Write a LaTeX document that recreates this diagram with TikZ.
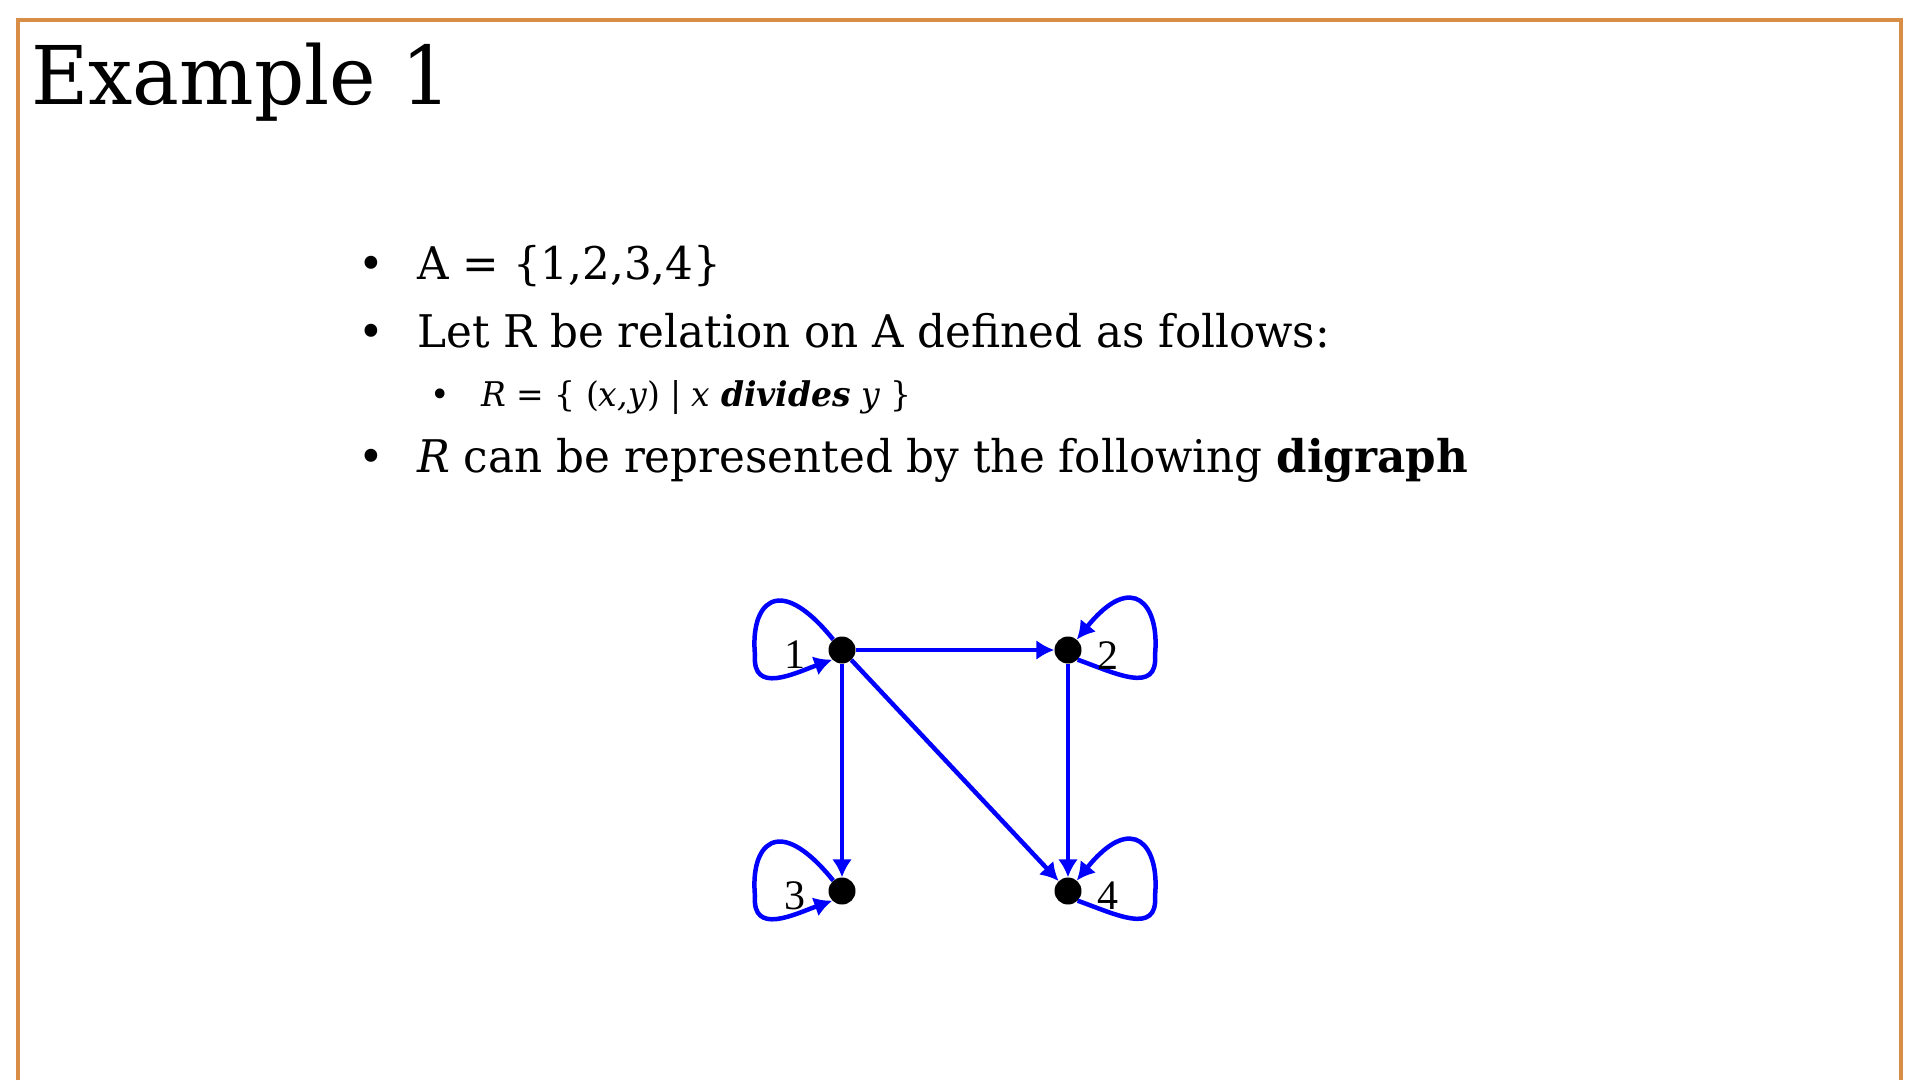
\documentclass[tikz,border=0pt]{standalone}
\usepackage{fontspec}
\setmainfont{DejaVu Serif}[FakeStretch=0.97]
\newfontfamily\labelfont{Liberation Serif}
\usetikzlibrary{arrows.meta,positioning,calc}

\definecolor{frameorange}{RGB}{217,142,72}
\definecolor{edgeblue}{RGB}{0,0,255}

\begin{document}
\begin{tikzpicture}[
  x=1pt, y=-1pt,
  frame/.style={draw=frameorange, line width=4pt},
  title/.style={anchor=base west, inner sep=0pt, font=\fontsize{81}{88}\selectfont},
  item/.style={anchor=base west, inner sep=0pt, font=\fontsize{45}{50}\selectfont},
  subitem/.style={anchor=base west, inner sep=0pt, font=\fontsize{34}{40}\selectfont},
  bullet/.style={anchor=base, inner sep=0pt, font=\fontsize{45}{50}\selectfont},
  subbullet/.style={anchor=base, inner sep=0pt, font=\fontsize{34}{40}\selectfont},
  dot/.style={circle, fill=black, inner sep=0pt, minimum size=27pt},
  vlabel/.style={inner sep=0pt, font=\labelfont\fontsize{42}{44}\selectfont},
  arrow/.style={-{Latex[length=18pt,width=20pt]}, draw=edgeblue, line width=4.5pt}
]
\fill[white] (0,0) rectangle (1920,1080);
\useasboundingbox (0,0) rectangle (1920,1080);
\draw[frame] (18,1080) -- (18,20) -- (1901,20) -- (1901,1080);

% slide text
\node[title] (title) at (31,104) {Example 1};
\node[item] (itemA) at (417,279) {A = \{1,2,3,4\}};
\node[item] (itemLet) at (417,347) {Let R be relation on A defined as follows:};
\node[subitem] (itemR) at (481,406) {\textit{R} = \{ (\textit{x,y}) | \textit{x} \textbf{\textit{divides}} \textit{y} \}};
\node[item] (itemDig) at (417,472) {\textit{R} can be represented by the following \textbf{digraph}};
\foreach \y in {279,347,472}
  \node[bullet] at (371,\y) {•};
\node[subbullet] at (440,406) {•};

% digraph
\node[dot] (v1) at (842,650) {};
\node[dot, on grid, right=226pt of v1] (v2) {};
\node[dot, on grid, below=241pt of v1] (v3) {};
\node[dot, on grid, below=241pt of v2] (v4) {};

\draw[arrow] (v1) -- (v2);
\draw[arrow] (v1) -- (v3);
\draw[arrow] (v1) -- (v4);
\draw[arrow] (v2) -- (v4);

\foreach \v in {v1,v3}
  \draw[arrow] (\v.130) .. controls ($(\v)+(-65,-80)$) and ($(\v)+(-92,-45)$) .. ($(\v)+(-87,5)$)
    .. controls ($(\v)+(-90,45)$) and ($(\v)+(-47,23)$) .. (\v.225);
\foreach \v in {v2,v4}
  \draw[arrow] (\v.315) .. controls ($(\v)+(47,23)$) and ($(\v)+(90,45)$) .. ($(\v)+(87,5)$)
    .. controls ($(\v)+(92,-45)$) and ($(\v)+(65,-80)$) .. (\v.50);

\node[vlabel, on grid, left=47pt of v1, yshift=-5pt] (l1) {1};
\node[vlabel, on grid, right=40pt of v2, yshift=-6pt] (l2) {2};
\node[vlabel, on grid, left=47pt of v3, yshift=-5pt] (l3) {3};
\node[vlabel, on grid, right=40pt of v4, yshift=-5pt] (l4) {4};
\end{tikzpicture}
\end{document}
